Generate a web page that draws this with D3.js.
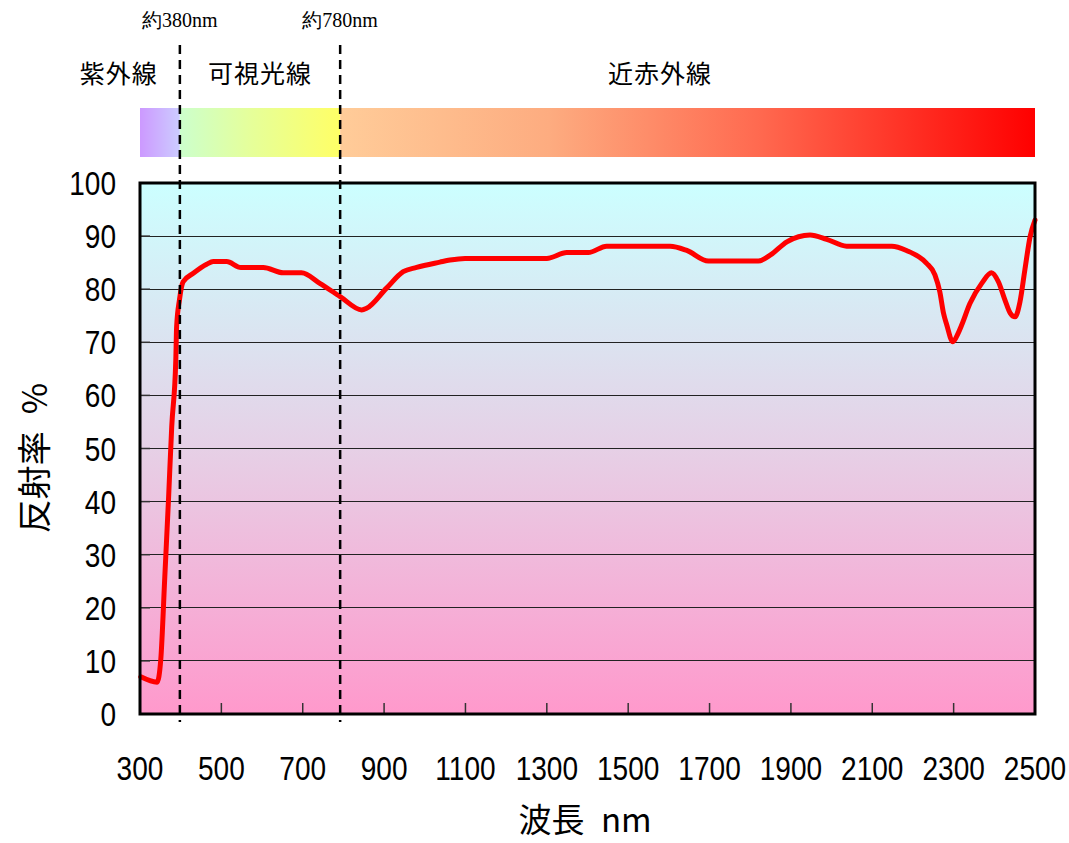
<!DOCTYPE html>
<html><head><meta charset="utf-8">
<script src="https://cdn.jsdelivr.net/npm/d3@7"></script>
<style>body{margin:0;background:#fff}</style>
</head><body>
<svg id="c" width="1069" height="843"></svg>
<script>
// ---- data ----
const wavelength = [302,342,351,361,370,378,388,390,397,406,431,464,480,513,548,603,652,697,742,792,845,857,906,947,980,1037,1062,1099,1300,1349,1402,1447,1603,1644,1697,1820,1849,1890,1947,1988,2037,2148,2184,2233,2254,2266,2275,2283,2298,2311,2320,2340,2369,2393,2410,2426,2439,2451,2463,2475,2488,2500];
const reflectance = [7.0,6.0,10.2,25.9,40.3,54.1,66.7,72.9,78.0,81.4,83.0,84.7,85.2,85.2,84.1,84.1,83.1,83.1,81.1,78.6,76.1,76.4,80.2,83.3,84.1,85.1,85.5,85.8,85.8,86.9,86.9,88.1,88.1,87.3,85.3,85.3,86.4,88.9,90.2,89.4,88.1,88.1,87.3,84.9,82.7,79.5,75.5,73.3,70.1,71.7,73.3,77.3,81.1,83.1,81.4,78.0,75.5,74.8,77.6,83.6,89.9,93.0];
const xTicks = [300,500,700,900,1100,1300,1500,1700,1900,2100,2300,2500];
const yTicks = [0,10,20,30,40,50,60,70,80,90,100];
const boundaries = [398, 792];
const boundaryLabels = ["約380nm", "約780nm"];
const regionNames = ["紫外線", "可視光線", "近赤外線"];
const regionCenters = [248, 595, 1578];
const xTitle = "波長\u2002nm";
const yTitle = "反射率\u2002%";

// ---- layout ----
const svg = d3.select("#c");
const L = 140, R = 1035, T = 183, B = 714;
const x = d3.scaleLinear().domain([300, 2500]).range([L, R]);
const y = d3.scaleLinear().domain([0, 100]).range([B, T]);
const numFont = "'Liberation Sans',Arial,sans-serif";
const jpFont = "'Noto Sans CJK JP',sans-serif";

const defs = svg.append("defs");
const bg = defs.append("linearGradient").attr("id", "bg").attr("x1", 0).attr("y1", 0).attr("x2", 0).attr("y2", 1);
bg.append("stop").attr("offset", 0).attr("stop-color", "#ccffff");
bg.append("stop").attr("offset", 0.5).attr("stop-color", "#e6d0e6");
bg.append("stop").attr("offset", 1).attr("stop-color", "#ff99cc");

function hgrad(id, stops) {
  const g = defs.append("linearGradient").attr("id", id).attr("x1", 0).attr("y1", 0).attr("x2", 1).attr("y2", 0);
  stops.forEach(s => g.append("stop").attr("offset", s[0]).attr("stop-color", s[1]));
}
hgrad("uv", [[0, "#cc99ff"], [1, "#ccccff"]]);
hgrad("vis", [[0, "#ccffcc"], [0.45, "#e6ff99"], [1, "#ffff66"]]);
hgrad("nir", [[0, "#ffcc99"], [0.3, "#fdac80"], [0.6, "#ff6a50"], [1, "#ff0000"]]);

// spectrum bar
const barTop = 108, barH = 49;
const edges = [300, boundaries[0], boundaries[1], 2500];
["uv", "vis", "nir"].forEach((id, i) => {
  svg.append("rect").attr("x", x(edges[i])).attr("y", barTop)
    .attr("width", x(edges[i + 1]) - x(edges[i])).attr("height", barH)
    .attr("fill", `url(#${id})`);
});

// plot background
svg.append("rect").attr("x", L).attr("y", T).attr("width", R - L).attr("height", B - T).attr("fill", "url(#bg)");

// gridlines
svg.append("g").selectAll("line").data(yTicks.filter(d => d > 0 && d < 100)).join("line")
  .attr("x1", L).attr("x2", R).attr("y1", d => y(d)).attr("y2", d => y(d))
  .attr("stroke", "#222").attr("stroke-width", 1).attr("shape-rendering", "crispEdges");

// inward ticks
svg.append("g").selectAll("line").data(yTicks).join("line")
  .attr("x1", L).attr("x2", L + 10).attr("y1", d => y(d)).attr("y2", d => y(d))
  .attr("stroke", "#333").attr("stroke-width", 1.5);
svg.append("g").selectAll("line").data(xTicks).join("line")
  .attr("x1", d => x(d)).attr("x2", d => x(d)).attr("y1", B).attr("y2", B - 11)
  .attr("stroke", "#333").attr("stroke-width", 1.5);

// curve
const line = d3.line().x((d, i) => x(wavelength[i])).y(d => y(d)).curve(d3.curveMonotoneX);
svg.append("path").datum(reflectance).attr("d", line)
  .attr("fill", "none").attr("stroke", "#ff0000").attr("stroke-width", 5)
  .attr("stroke-linejoin", "round").attr("stroke-linecap", "round");

// frame
svg.append("rect").attr("x", L).attr("y", T).attr("width", R - L).attr("height", B - T)
  .attr("fill", "none").attr("stroke", "#000").attr("stroke-width", 3);

// dashed boundaries
svg.append("g").selectAll("line").data(boundaries).join("line")
  .attr("x1", d => x(d)).attr("x2", d => x(d)).attr("y1", 45).attr("y2", 722)
  .attr("stroke", "#000").attr("stroke-width", 2.5).attr("stroke-dasharray", "9,6");

svg.append("g").selectAll("text").data(boundaries).join("text")
  .attr("x", d => x(d)).attr("y", 27).attr("text-anchor", "middle")
  .attr("font-family", "'Liberation Serif','DejaVu Serif',serif").attr("font-size", 20)
  .text((d, i) => boundaryLabels[i]);

svg.append("g").selectAll("text").data(regionNames).join("text")
  .attr("x", (d, i) => x(regionCenters[i])).attr("y", 83).attr("text-anchor", "middle")
  .attr("font-family", jpFont).attr("font-size", 25).attr("letter-spacing", 1)
  .text(d => d);

// tick labels (narrow digits)
svg.append("g").selectAll("text").data(xTicks).join("text")
  .attr("transform", d => `translate(${x(d)},780) scale(0.85,1)`).attr("text-anchor", "middle")
  .attr("font-family", numFont).attr("font-size", 33).text(d => d);
svg.append("g").selectAll("text").data(yTicks).join("text")
  .attr("transform", d => `translate(116,${y(d) + 12}) scale(0.85,1)`).attr("text-anchor", "end")
  .attr("font-family", numFont).attr("font-size", 33).text(d => d);

// titles
svg.append("text").attr("x", 585).attr("y", 832).attr("text-anchor", "middle")
  .attr("font-family", jpFont).attr("font-size", 33).text(xTitle);
svg.append("text").attr("transform", "translate(47,458) rotate(-90)").attr("text-anchor", "middle")
  .attr("font-family", jpFont).attr("font-size", 34).text(yTitle);
</script>
</body></html>
